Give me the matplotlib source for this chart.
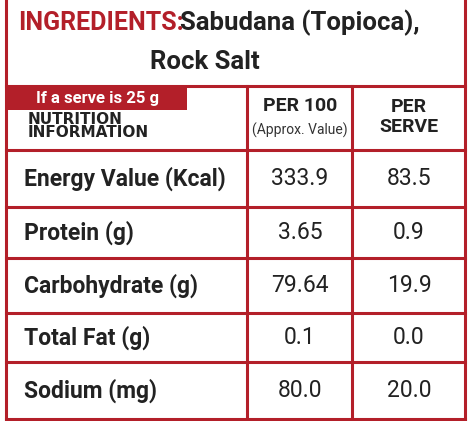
import matplotlib
matplotlib.use("Agg")
import matplotlib.pyplot as plt
from matplotlib.patches import Rectangle

nutrients = ["Energy Value (Kcal)", "Protein (g)", "Carbohydrate (g)", "Total Fat (g)", "Sodium (mg)"]
per100 = ["333.9", "3.65", "79.64", "0.1", "80.0"]
perserve = ["83.5", "0.9", "19.9", "0.0", "20.0"]

RED = "#b31f29"
W, H = 470, 421
fig = plt.figure(figsize=(W/100, H/100), dpi=100)
ax = fig.add_axes([0, 0, 1, 1])
ax.set_xlim(0, W); ax.set_ylim(H, 0); ax.axis("off")
F = ["Roboto", "DejaVu Sans"]
lw = 2.2

ax.plot([6, 6], [0, 419], color=RED, lw=lw)
ax.plot([465, 465], [0, 419], color=RED, lw=lw)
ax.plot([6, 465], [419, 419], color=RED, lw=lw)

ax.text(18, 23, "INGREDIENTS:", color=RED, fontsize=18, fontweight="bold", family=F, va="center")
ax.text(180, 23, "Sabudana (Topioca),", color="#222", fontsize=18.5, fontweight="bold", family=F, va="center")
ax.text(150, 62, "Rock Salt", color="#222", fontsize=18.5, fontweight="bold", family=F, va="center")

ys = [86, 150, 207, 258, 313, 362]
for y in ys:
    ax.plot([6, 465], [y, y], color=RED, lw=lw)
for x in [247, 352]:
    ax.plot([x, x], [86, 419], color=RED, lw=lw)

ax.add_patch(Rectangle((7, 88), 180, 22, color=RED, lw=0))
ax.text(97, 99, "If a serve is 25 g", color="white", fontsize=12, fontweight="bold", family=F, ha="center", va="center")
ax.text(28, 126, "NUTRITION\nINFORMATION", color="#222", fontsize=11, fontweight="heavy", family=["DejaVu Sans"], va="center", linespacing=0.9)
ax.text(300, 106, "PER 100", color="#222", fontsize=14, fontweight="bold", family=F, ha="center", va="center")
ax.text(300, 130, "(Approx. Value)", color="#333", fontsize=10, family=F, ha="center", va="center")
ax.text(409, 117, "PER\nSERVE", color="#222", fontsize=14, fontweight="bold", family=F, ha="center", va="center", linespacing=1.2)

row_top = ys[1:]
row_bot = ys[2:] + [419]
for i, name in enumerate(nutrients):
    yc = (row_top[i] + row_bot[i]) / 2
    ax.text(24, yc, name, color="#222", fontsize=16.5, fontweight="bold", family=F, va="center")
    ax.text(300, yc, per100[i], color="#222", fontsize=16.5, family=F, ha="center", va="center")
    ax.text(409, yc, perserve[i], color="#222", fontsize=16.5, family=F, ha="center", va="center")

fig.savefig("out.png", dpi=100, facecolor="white")
